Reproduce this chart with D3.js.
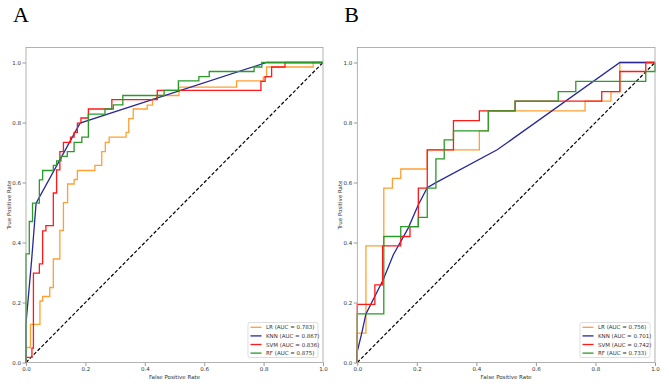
<!DOCTYPE html>
<html>
<head>
<meta charset="utf-8">
<script src="https://cdn.jsdelivr.net/npm/d3@7"></script>
<style>
  body { margin: 0; background: #fff; }
  svg { display: block; }
  .tick text { font-family: "DejaVu Sans", sans-serif; font-size: 5.5px; fill: #333; }
  .tick line { stroke: #555; stroke-width: 0.6; }
</style>
</head>
<body>
<div id="chart"></div>
<script>
// ROC points: [fpr, tpr]; step curves hold the top of each rise
const aLR = [[0,0],[0,0.05],[0.015,0.127],[0.047,0.205],[0.056,0.22],[0.08,0.25],[0.092,0.345],[0.114,0.44],
  [0.126,0.533],[0.14,0.595],[0.162,0.61],[0.173,0.64],[0.232,0.657],[0.255,0.703],[0.267,0.734],[0.28,0.751],
  [0.337,0.767],[0.346,0.813],[0.361,0.845],[0.408,0.858],[0.426,0.878],[0.44,0.89],[0.515,0.918],[0.709,0.939],
  [0.799,0.951],[0.81,0.985],[0.967,1],[1,1]]
const aKNN = [[0,0],[0,0.13],[0.019,0.342],[0.034,0.531],[0.182,0.798],[0.81,1],[1,1]]
const aSVM = [[0,0],[0,0.017],[0.02,0.048],[0.025,0.298],[0.045,0.329],[0.056,0.439],[0.067,0.456],[0.092,0.565],
  [0.103,0.642],[0.114,0.703],[0.126,0.734],[0.15,0.751],[0.162,0.767],[0.173,0.798],[0.185,0.815],[0.21,0.845],
  [0.289,0.876],[0.442,0.907],[0.791,0.937],[0.805,0.953],[0.827,0.985],[0.872,1],[1,1]]
const aRF = [[0,0],[0,0.362],[0.011,0.47],[0.022,0.531],[0.045,0.609],[0.056,0.64],[0.092,0.657],[0.103,0.672],
  [0.118,0.687],[0.139,0.703],[0.162,0.734],[0.188,0.751],[0.21,0.828],[0.266,0.845],[0.294,0.859],[0.326,0.89],
  [0.465,0.907],[0.513,0.939],[0.582,0.953],[0.617,0.97],[0.768,0.985],[0.794,1],[1,1]]

const bLR = [[0,0],[0,0.098],[0.029,0.389],[0.089,0.581],[0.118,0.614],[0.146,0.645],[0.235,0.709],[0.41,0.772],
  [0.44,0.839],[0.765,0.871],[0.852,0.903],[0.882,1],[1,1]]
const bKNN = [[0,0],[0,0.037],[0.015,0.098],[0.029,0.162],[0.087,0.276],[0.121,0.359],[0.171,0.448],[0.205,0.526],
  [0.235,0.583],[0.261,0.598],[0.47,0.709],[0.882,1],[1,1]]
const bSVM = [[0,0],[0,0.194],[0.059,0.259],[0.085,0.389],[0.146,0.42],[0.177,0.453],[0.205,0.581],[0.235,0.709],
  [0.323,0.806],[0.41,0.839],[0.53,0.871],[0.821,0.903],[0.882,0.97],[0.969,1],[1,1]]
const bRF = [[0,0],[0,0.162],[0.089,0.42],[0.146,0.453],[0.205,0.484],[0.235,0.581],[0.264,0.679],[0.292,0.742],
  [0.323,0.772],[0.44,0.839],[0.53,0.871],[0.675,0.903],[0.734,0.937],[0.969,0.97],[1,0.97],[1,1]]

const models = ["LR", "KNN", "SVM", "RF"]
const aucA = [0.783, 0.867, 0.836, 0.875]
const aucB = [0.756, 0.701, 0.742, 0.733]
const ticks = [0, 0.2, 0.4, 0.6, 0.8, 1.0]

const colors = {LR: "#ffa033", KNN: "#28289a", SVM: "#ff1a1a", RF: "#2a9a2a"}
const stepped = {LR: true, KNN: false, SVM: true, RF: true}

const svg = d3.select("#chart").append("svg")
    .attr("width", 669)
    .attr("height", 389)

function drawPanel(left, right, letter, series, auc) {
    const top = 47.5, bottom = 362.5
    const x = d3.scaleLinear().domain([0, 1]).range([left, right])
    const y = d3.scaleLinear().domain([0, 1.05]).range([bottom, top])
    const g = svg.append("g")

    // panel letter
    g.append("text")
        .attr("x", left - 13)
        .attr("y", 22)
        .style("font-family", "'Liberation Serif', serif")
        .style("font-size", "22px")
        .text(letter)

    g.append("g")
        .attr("transform", `translate(0,${bottom})`)
        .call(d3.axisBottom(x).tickValues(ticks).tickFormat(d3.format(".1f")).tickSize(3.5).tickPadding(1.5))
        .call(a => a.select(".domain").remove())
    g.append("g")
        .attr("transform", `translate(${left},0)`)
        .call(d3.axisLeft(y).tickValues(ticks).tickFormat(d3.format(".1f")).tickSize(3.5).tickPadding(1.5))
        .call(a => a.select(".domain").remove())

    // chance line
    g.append("line")
        .attr("x1", x(0)).attr("y1", y(0))
        .attr("x2", x(1)).attr("y2", y(1))
        .attr("stroke", "#000")
        .attr("stroke-width", 1.2)
        .attr("stroke-dasharray", "3.5,2")

    models.forEach((m, i) => {
        const line = d3.line()
            .x(d => x(d[0]))
            .y(d => y(d[1]))
            .curve(stepped[m] ? d3.curveStepAfter : d3.curveLinear)
        g.append("path")
            .datum(series[i])
            .attr("d", line)
            .attr("fill", "none")
            .attr("stroke", colors[m])
            .attr("stroke-width", 1.3)
    })

    // frame
    g.append("rect")
        .attr("x", left).attr("y", top)
        .attr("width", right - left).attr("height", bottom - top)
        .attr("fill", "none")
        .attr("stroke", "#a0a0a0")
        .attr("stroke-width", 0.8)

    g.append("text")
        .attr("x", (left + right) / 2)
        .attr("y", 379)
        .attr("text-anchor", "middle")
        .style("font-family", "'DejaVu Sans', sans-serif")
        .style("font-size", "5.5px")
        .style("fill", "#333")
        .text("False Positive Rate")
    g.append("text")
        .attr("transform", `translate(${left - 15},${(top + bottom) / 2}) rotate(-90)`)
        .attr("text-anchor", "middle")
        .style("font-family", "'DejaVu Sans', sans-serif")
        .style("font-size", "5.5px")
        .style("fill", "#333")
        .text("True Positive Rate")

    // legend
    const lw = 70, lh = 35
    const lx = right - 5 - lw, ly = bottom - 5 - lh
    const leg = g.append("g").attr("transform", `translate(${lx},${ly})`)
    leg.append("rect")
        .attr("width", lw).attr("height", lh)
        .attr("rx", 2)
        .attr("fill", "#fff")
        .attr("stroke", "#d0d0d0")
        .attr("stroke-width", 0.7)
    models.forEach((m, i) => {
        const yy = 4.8 + i * 8.6
        leg.append("line")
            .attr("x1", 2.5).attr("x2", 13.5)
            .attr("y1", yy).attr("y2", yy)
            .attr("stroke", colors[m])
            .attr("stroke-width", 1.3)
        leg.append("text")
            .attr("x", 18)
            .attr("y", yy + 2)
            .style("font-family", "'DejaVu Sans', sans-serif")
            .style("font-size", "5.5px")
            .style("fill", "#333")
            .text(`${m} (AUC = ${auc[i].toFixed(3)})`)
    })
}

drawPanel(26, 323, "A", [aLR, aKNN, aSVM, aRF], aucA)
drawPanel(357.3, 655, "B", [bLR, bKNN, bSVM, bRF], aucB)
</script>
</body>
</html>
